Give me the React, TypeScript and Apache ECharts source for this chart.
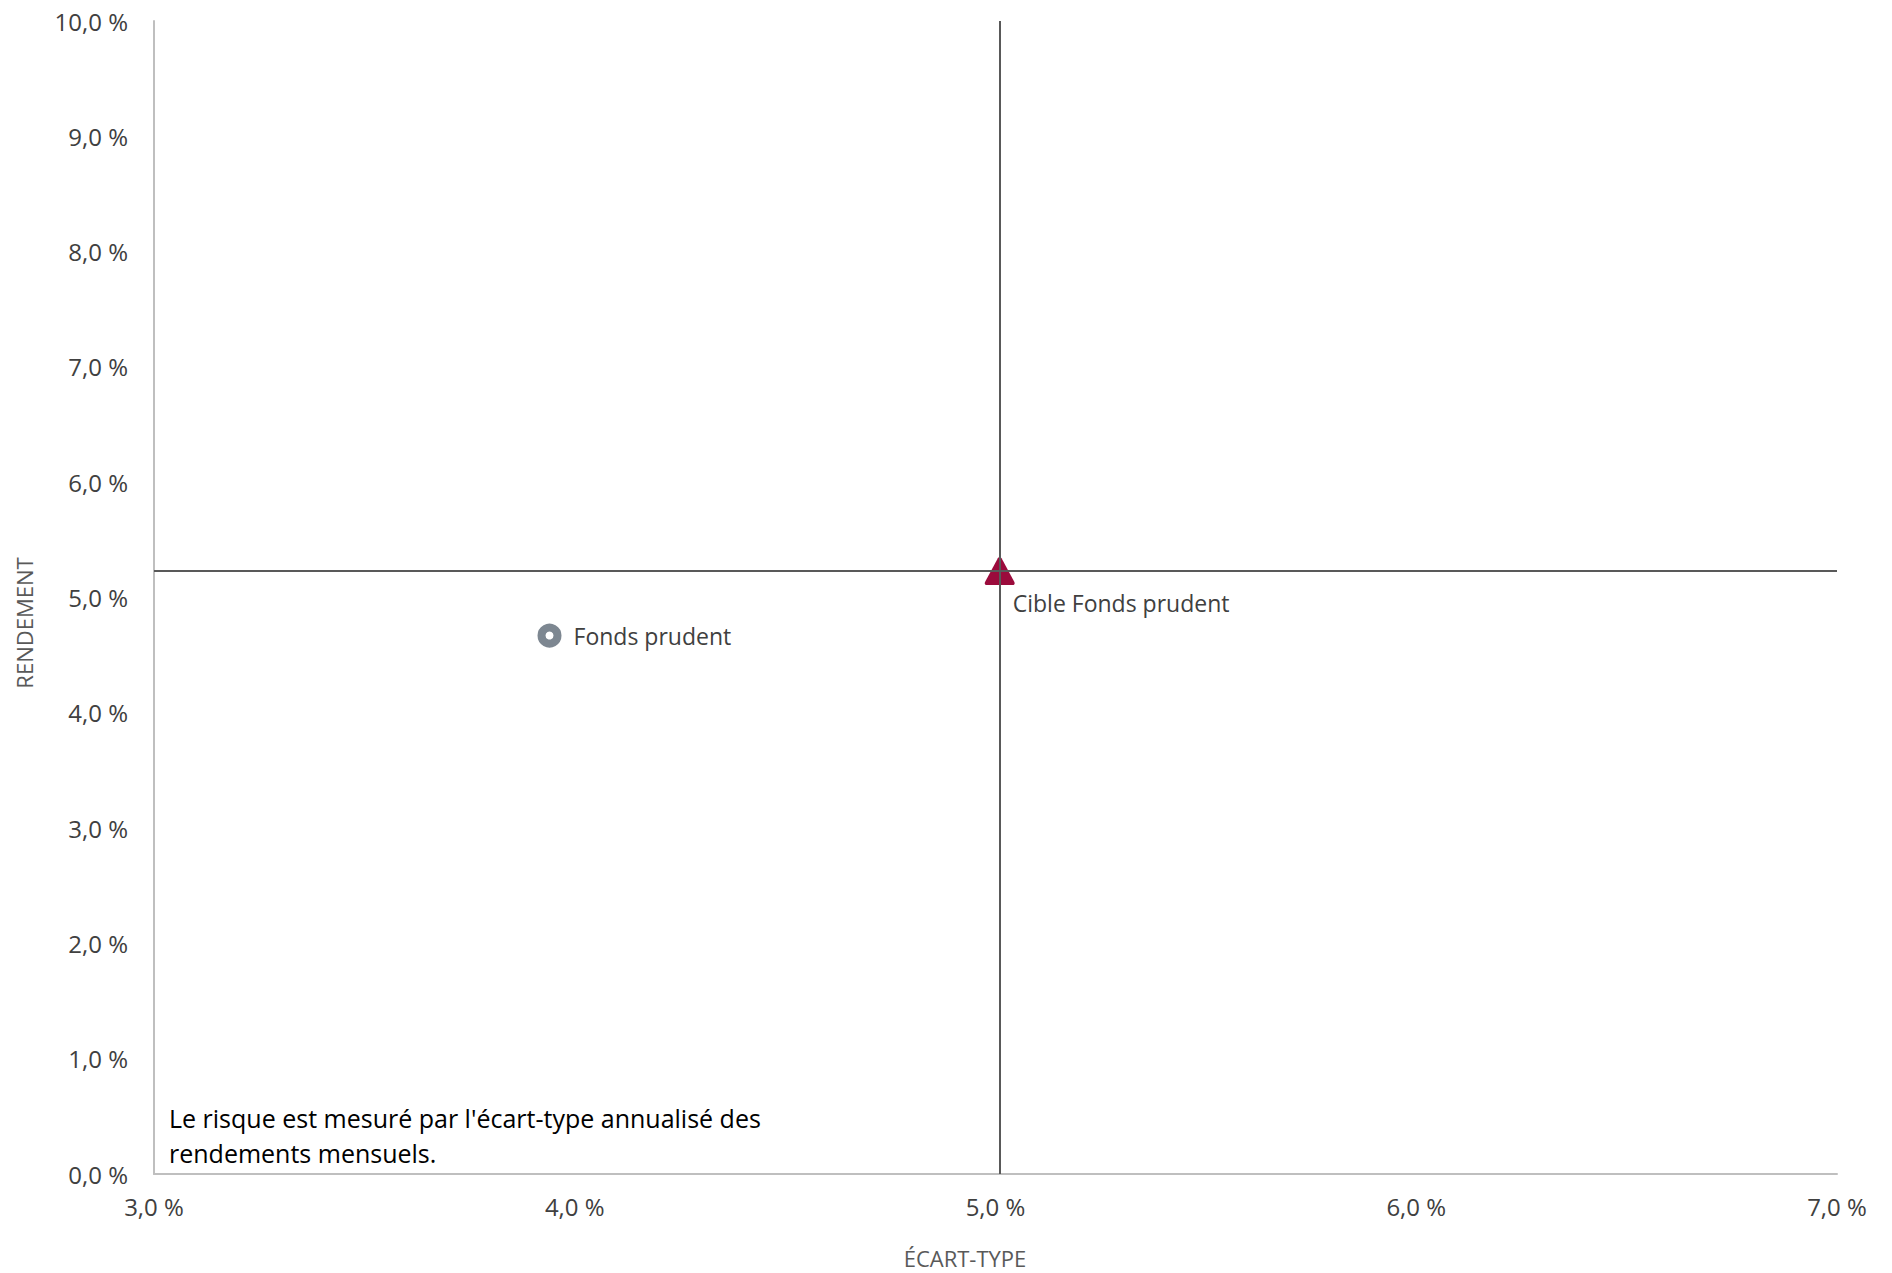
import React, { useEffect, useRef } from "react";
import * as echarts from "echarts";

const xTicks = [3, 4, 5, 6, 7];
const yTicks = [0, 1, 2, 3, 4, 5, 6, 7, 8, 9, 10];
const fondsName = "Fonds prudent";
const fondsPoint = [3.94, 4.67];
const cibleName = "Cible Fonds prudent";
const ciblePoint = [5.01, 5.23];
const xAxisName = "ÉCART-TYPE";
const yAxisName = "RENDEMENT";
const noteLines = [
  "Le risque est mesuré par l'écart-type annualisé des",
  "rendements mensuels.",
];

const FONT = "'Open Sans', 'Noto Sans', sans-serif";
const fmt = (v: number) => v.toFixed(1).replace(".", ",") + "\u00a0%";
const roundedTriangle =
  "path://M44,6 Q50,-3 56,6 L97,82 Q101,92 90,92 L10,92 Q-1,92 3,82 Z";

export default function App() {
  const ref = useRef<HTMLDivElement>(null);
  useEffect(() => {
    if (!ref.current) return;
    const chart = echarts.init(ref.current, null, { renderer: "svg" });
    chart.setOption({
      animation: false,
      backgroundColor: "#ffffff",
      textStyle: { fontFamily: FONT },
      grid: {
        left: 154,
        right: 55,
        top: 21,
        bottom: 99,
        containLabel: false,
        outerBoundsMode: "none",
      },
      xAxis: {
        type: "value",
        min: xTicks[0],
        max: xTicks[xTicks.length - 1],
        interval: 1,
        axisLine: { show: true, lineStyle: { color: "#BFBFBF", width: 2 } },
        axisTick: { show: false },
        splitLine: { show: false },
        axisLabel: {
          formatter: fmt,
          color: "#404040",
          fontSize: 24,
          fontFamily: FONT,
          margin: 20,
        },
      },
      yAxis: {
        type: "value",
        min: yTicks[0],
        max: yTicks[yTicks.length - 1],
        interval: 1,
        axisLine: { show: true, lineStyle: { color: "#BFBFBF", width: 2 } },
        axisTick: { show: false },
        splitLine: { show: false },
        axisLabel: {
          formatter: fmt,
          color: "#404040",
          fontSize: 24,
          fontFamily: FONT,
          margin: 26,
        },
      },
      graphic: [
        {
          type: "text",
          x: 965,
          y: 1258,
          style: {
            text: xAxisName,
            fill: "#595959",
            font: `22px ${FONT}`,
            textAlign: "center",
            textVerticalAlign: "middle",
          },
        },
        {
          type: "text",
          x: 24,
          y: 623,
          rotation: Math.PI / 2,
          style: {
            text: yAxisName,
            fill: "#595959",
            font: `22px ${FONT}`,
            textAlign: "center",
            textVerticalAlign: "middle",
          },
        },
        {
          type: "text",
          x: 169,
          y: 1118,
          style: {
            text: noteLines[0],
            fill: "#000000",
            font: `25px ${FONT}`,
            textAlign: "left",
            textVerticalAlign: "middle",
          },
        },
        {
          type: "text",
          x: 169,
          y: 1153,
          style: {
            text: noteLines[1],
            fill: "#000000",
            font: `25px ${FONT}`,
            textAlign: "left",
            textVerticalAlign: "middle",
          },
        },
      ],
      series: [
        {
          type: "line",
          data: [],
          z: 1,
          silent: true,
          markLine: {
            silent: true,
            symbol: ["none", "none"],
            label: { show: false },
            lineStyle: { color: "#595959", width: 2, type: "solid" },
            data: [{ xAxis: ciblePoint[0] }, { yAxis: ciblePoint[1] }],
          },
        },
        {
          type: "scatter",
          name: fondsName,
          z: 3,
          symbol: "circle",
          symbolSize: 16,
          itemStyle: {
            color: "#ffffff",
            borderColor: "#7D8791",
            borderWidth: 8,
            opacity: 1,
          },
          label: {
            show: true,
            formatter: fondsName,
            position: "right",
            distance: 0,
            offset: [12, 0],
            color: "#404040",
            fontSize: 23,
            fontFamily: FONT,
          },
          data: [fondsPoint],
        },
        {
          type: "scatter",
          name: cibleName,
          z: 3,
          symbol: roundedTriangle,
          symbolSize: [30, 28],
          symbolKeepAspect: false,
          itemStyle: { color: "#9B0B3C", opacity: 1 },
          label: {
            show: true,
            formatter: cibleName,
            position: "right",
            distance: 0,
            offset: [-2, 32],
            color: "#404040",
            fontSize: 23,
            fontFamily: FONT,
          },
          data: [ciblePoint],
        },
      ],
    });
    return () => chart.dispose();
  }, []);
  return (
    <div
      ref={ref}
      style={{ position: "fixed", left: 0, top: 0, width: 1892, height: 1273 }}
    />
  );
}
